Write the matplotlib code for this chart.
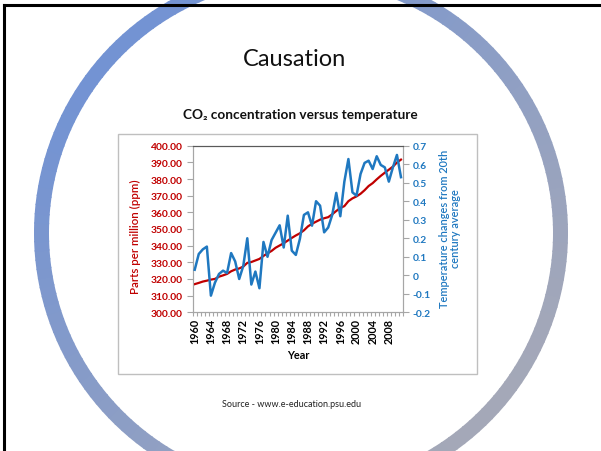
import numpy as np
import matplotlib
matplotlib.use("Agg")
import matplotlib.pyplot as plt
from matplotlib.patches import Wedge, Rectangle
from matplotlib.colors import to_rgb
from matplotlib.ticker import FuncFormatter, FixedLocator

plt.rcParams["font.family"] = ["Lato", "DejaVu Sans"]

years = list(range(1960, 2012))
co2_ppm = [316.91, 317.64, 318.45, 318.99, 319.62, 320.04, 321.38, 322.16, 323.04, 324.62,
           325.68, 326.32, 327.45, 329.68, 330.18, 331.11, 332.04, 333.83, 335.40, 336.84,
           338.75, 340.11, 341.45, 343.05, 344.65, 346.12, 347.42, 349.19, 351.57, 353.12,
           354.39, 355.61, 356.45, 357.10, 358.83, 360.82, 362.61, 363.73, 366.70, 368.38,
           369.55, 371.14, 373.28, 375.80, 377.52, 379.80, 381.90, 383.79, 385.60, 387.43,
           389.90, 391.65]
temp_anomaly = [0.03, 0.115, 0.14, 0.155, -0.11, -0.04, 0.007, 0.025, 0.012, 0.12,
                0.075, -0.02, 0.05, 0.20, -0.05, 0.02, -0.07, 0.18, 0.10, 0.19,
                0.23, 0.27, 0.15, 0.322, 0.133, 0.11, 0.196, 0.326, 0.34, 0.268,
                0.40, 0.376, 0.232, 0.258, 0.326, 0.445, 0.319, 0.506, 0.628, 0.448,
                0.43, 0.547, 0.607, 0.619, 0.574, 0.643, 0.596, 0.583, 0.506, 0.583,
                0.65, 0.53]
ppm_ticks = np.arange(300, 401, 10)
temp_ticks = np.round(np.arange(-0.2, 0.71, 0.1), 1)

RED = "#c00000"
BLUE = "#1f78c0"
W, H = 601, 452

fig = plt.figure(figsize=(W / 100, H / 100), dpi=100)

# slide background: frame and ring
bg = fig.add_axes([0, 0, 1, 1])
bg.set_xlim(0, W)
bg.set_ylim(H, 0)
bg.axis("off")
c_blue = np.array(to_rgb("#7393d3"))
c_grey = np.array(to_rgb("#a4a8b8"))
cx, cy, r_out, ring_w = 301, 234, 267, 15
for a in np.arange(0, 360, 2):
    th = np.radians(a + 1)
    t = (np.cos(th) + np.sin(th)) / np.sqrt(2) * 0.5 + 0.5
    col = c_blue * (1 - t) + c_grey * t
    bg.add_patch(Wedge((cx, cy), r_out, a, a + 2.3, width=ring_w, color=col, lw=0))
bg.plot([4, 4], [6, H], color="black", lw=2.2)
bg.plot([4, W], [6, 6], color="black", lw=2.2)
bg.add_patch(Rectangle((118, 135), 359, 240, facecolor="white", edgecolor="#bfbfbf", lw=1))

fig.text(295 / W, 1 - 59 / H, "Causation", ha="center", va="center", fontsize=17,
         color="#111111")
fig.text(300 / W, 1 - 115 / H, "CO₂ concentration versus temperature", ha="center", va="center",
         fontsize=9.8, fontweight="bold", color="#111111")
fig.text(292 / W, 1 - 405 / H, "Source - www.e-education.psu.edu", ha="center", va="center",
         fontsize=6.5, color="#222222")

# chart
ax = fig.add_axes([192.7 / W, 1 - 313.3 / H, 210.3 / W, 166.6 / H])
x = np.arange(len(years))
ax.plot(x, co2_ppm, color=RED, lw=1.6, zorder=3)
ax.set_xlim(-0.5, len(years) - 0.5)
ax.set_ylim(300, 400)
ax.set_yticks(ppm_ticks)
ax.yaxis.set_major_formatter(FuncFormatter(lambda v, p: f"{v:.2f}"))
ax.set_xticks(x[::4])
ax.set_xticklabels([str(y) for y in years[::4]], rotation=90)
ax.xaxis.set_minor_locator(FixedLocator(np.arange(-0.5, len(years), 1)))
ax.tick_params(axis="x", which="major", length=0, pad=4, labelsize=7.8, colors="black")
ax.tick_params(axis="x", which="minor", length=3, color="#a6a6a6", width=0.8)
ax.tick_params(axis="y", length=4, color="#a6a6a6", width=0.8, pad=3, labelsize=7.4,
               labelcolor=RED)
for lbl in ax.get_xticklabels() + ax.get_yticklabels():
    lbl.set_fontweight("bold")

ax2 = ax.twinx()
ax2.plot(x, temp_anomaly, color=BLUE, lw=1.8, zorder=3)
ax2.set_ylim(-0.2, 0.7)
ax2.set_yticks(temp_ticks)
ax2.yaxis.set_major_formatter(FuncFormatter(lambda v, p: "0" if abs(v) < 1e-9 else f"{v:g}"))
ax2.tick_params(axis="y", length=4, color="#a6a6a6", width=0.8, pad=3, labelsize=7.4,
                labelcolor=BLUE)
for lbl in ax2.get_yticklabels():
    lbl.set_fontweight("bold")

for a_ in (ax, ax2):
    for s in ("left", "right", "bottom"):
        a_.spines[s].set_color("#a6a6a6")
        a_.spines[s].set_linewidth(0.8)
    a_.spines["top"].set_color("#595959")
    a_.spines["top"].set_linewidth(0.8)

fig.text(135 / W, 1 - 237 / H, "Parts per million (ppm)", rotation=90, ha="center", va="center",
         fontsize=8.3, fontweight="semibold", color=RED)
fig.text(450 / W, 1 - 229 / H, "Temperature changes from 20th\ncentury average", rotation=90,
         ha="center", va="center", fontsize=7.9, fontweight="semibold", color=BLUE,
         linespacing=1.05)
fig.text(298 / W, 1 - 356 / H, "Year", ha="center", va="center", fontsize=7.8,
         fontweight="bold", color="black")

fig.savefig("out.png", dpi=100)
